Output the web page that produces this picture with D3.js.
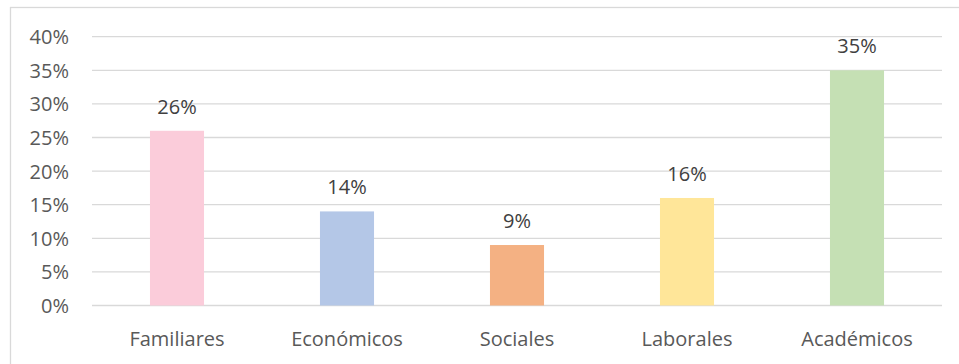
<!DOCTYPE html>
<html>
<head>
<meta charset="utf-8">
<script src="https://cdn.jsdelivr.net/npm/d3@7"></script>
<style>
  html, body { margin: 0; padding: 0; background: #fff; }
  svg { display: block; }
  text { font-family: "Open Sans", "Noto Sans", sans-serif; }
</style>
</head>
<body>
<div id="chart"></div>
<script>
// Motivos (categorías) y porcentajes
const categories = ["Familiares", "Económicos", "Sociales", "Laborales", "Académicos"];
const values = [0.26, 0.14, 0.09, 0.16, 0.35];
const colors = ["#FBCCDA", "#B4C7E7", "#F4B183", "#FFE699", "#C5E0B4"];
const yTicks = [0, 0.05, 0.10, 0.15, 0.20, 0.25, 0.30, 0.35, 0.40];

const W = 959, H = 364;
const plot = { left: 92, right: 942, top: 36.7, bottom: 305.5 };

const svg = d3.select("#chart").append("svg")
  .attr("width", W).attr("height", H);

// Marco del gráfico
svg.append("rect")
  .attr("x", 10.5).attr("y", 7.5)
  .attr("width", W + 20).attr("height", H + 20)
  .attr("fill", "none").attr("stroke", "#D9D9D9").attr("stroke-width", 1.3);

const x = d3.scaleBand()
  .domain(categories)
  .range([plot.left, plot.right])
  .paddingInner(0.682).paddingOuter(0.341);

const y = d3.scaleLinear()
  .domain([0, 0.40])
  .range([plot.bottom, plot.top]);

const pct = d3.format(".0%");

// Líneas de cuadrícula horizontales
svg.append("g")
  .selectAll("line").data(yTicks).join("line")
  .attr("x1", plot.left).attr("x2", plot.right)
  .attr("y1", d => y(d)).attr("y2", d => y(d))
  .attr("stroke", "#D9D9D9").attr("stroke-width", 1.3);

// Eje Y
const yAxis = svg.append("g")
  .attr("transform", `translate(${plot.left},0)`)
  .call(d3.axisLeft(y).tickValues(yTicks).tickFormat(pct).tickSize(0).tickPadding(23));
yAxis.select(".domain").remove();
yAxis.selectAll("text")
  .attr("font-size", 20).attr("fill", "#595959")
  .attr("font-family", "Open Sans, sans-serif")
  .attr("dy", "0.35em");

// Eje X
const xAxis = svg.append("g")
  .attr("transform", `translate(0,${plot.bottom})`)
  .call(d3.axisBottom(x).tickSize(0).tickPadding(0));
xAxis.select(".domain").remove();
xAxis.selectAll("text")
  .attr("font-size", 20).attr("fill", "#595959")
  .attr("font-family", "Open Sans, sans-serif")
  .attr("dy", null)
  .attr("y", 40.3);

// Barras
svg.append("g")
  .selectAll("rect").data(values).join("rect")
  .attr("x", (d, i) => x(categories[i]))
  .attr("width", x.bandwidth())
  .attr("y", d => y(d))
  .attr("height", d => y(0) - y(d))
  .attr("fill", (d, i) => colors[i]);

// Etiquetas de datos
svg.append("g")
  .selectAll("text").data(values).join("text")
  .attr("x", (d, i) => x(categories[i]) + x.bandwidth() / 2)
  .attr("y", d => y(d) - 17)
  .attr("text-anchor", "middle")
  .attr("font-size", 20).attr("fill", "#404040")
  .text(d => pct(d));
</script>
</body>
</html>
